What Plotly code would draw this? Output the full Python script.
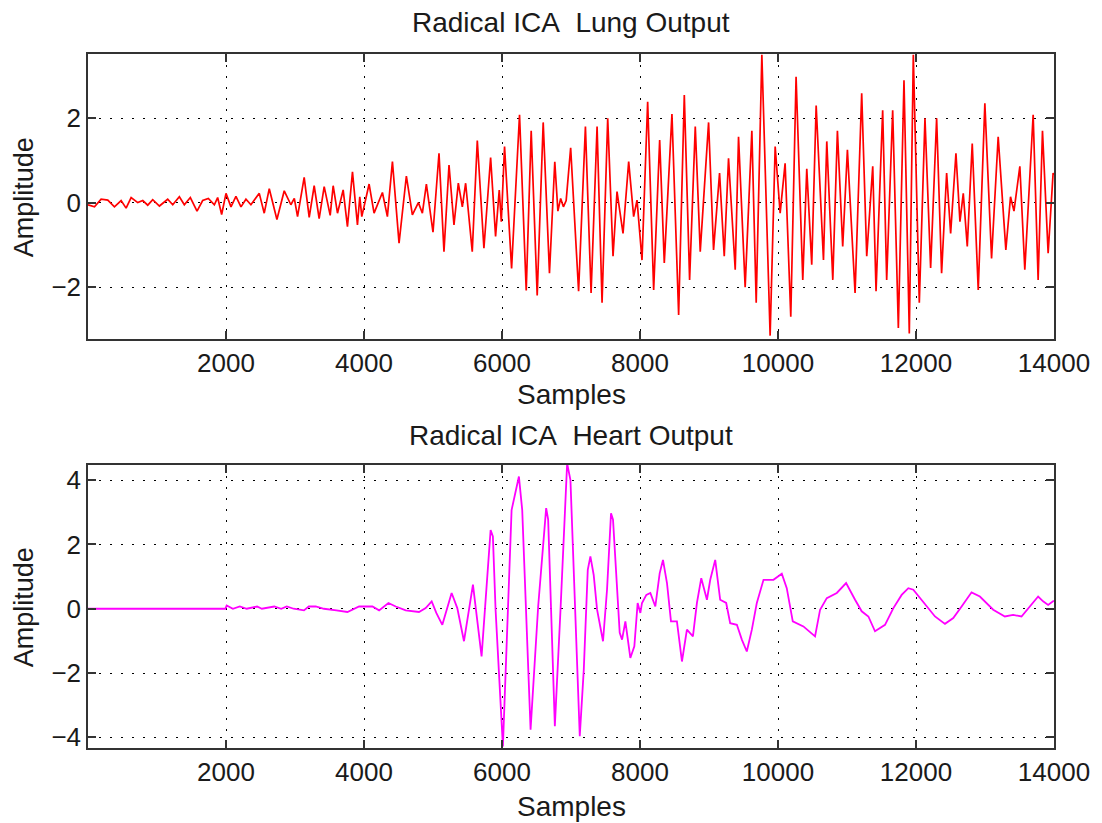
import plotly.graph_objects as go

# Lung output: sample index and amplitude of each turning point of the trace
lung_samples = [
    0, 94, 190, 287, 383, 480, 552, 625, 721, 794, 866, 938, 1035, 1155, 1228,
    1324, 1396, 1483, 1580, 1662, 1744, 1831, 1879, 1937, 2000, 2072, 2144, 2217,
    2289, 2361, 2482, 2554, 2627, 2738, 2844, 2940, 2990, 3037, 3133, 3206, 3278,
    3350, 3423, 3510, 3553, 3616, 3698, 3760, 3833, 3905, 3939, 3968, 4074, 4146,
    4267, 4339, 4412, 4508, 4614, 4701, 4788, 4846, 4904, 5000, 5087, 5159, 5232,
    5304, 5367, 5425, 5473, 5569, 5642, 5738, 5835, 5907, 5960, 5990, 6037, 6139,
    6254, 6351, 6423, 6510, 6597, 6688, 6765, 6810, 6850, 6890, 6930, 6995, 7110,
    7209, 7291, 7378, 7450, 7532, 7609, 7667, 7754, 7836, 7908, 7957, 8029, 8111,
    8198, 8285, 8352, 8463, 8560, 8642, 8719, 8801, 8873, 8994, 9066, 9153, 9221,
    9283, 9380, 9428, 9524, 9621, 9684, 9766, 9886, 9959, 10031, 10103, 10185,
    10262, 10359, 10417, 10489, 10553, 10659, 10707, 10794, 10861, 10938, 11006,
    11117, 11213, 11286, 11373, 11421, 11517, 11575, 11662, 11744, 11826, 11903,
    11961, 12048, 12130, 12212, 12299, 12371, 12444, 12502, 12579, 12637, 12685,
    12743, 12815, 12902, 12998, 13095, 13191, 13302, 13370, 13420, 13505, 13577,
    13698, 13770, 13833, 13915, 13987, 14000,
]
lung_amp = [
    -0.05, -0.10, 0.08, 0.06, -0.10, 0.05, -0.13, 0.12, 0.00, 0.05, -0.06, 0.07,
    -0.08, 0.08, -0.05, 0.14, -0.05, 0.12, -0.20, 0.05, 0.10, -0.05, 0.12, -0.28,
    0.22, -0.10, 0.15, -0.10, 0.08, -0.05, 0.22, -0.25, 0.33, -0.40, 0.28, -0.05,
    0.10, -0.33, 0.60, -0.35, 0.40, -0.38, 0.38, -0.30, 0.40, -0.25, 0.30, -0.57,
    0.73, -0.53, 0.14, -0.33, 0.44, -0.25, 0.24, -0.33, 0.97, -0.96, 0.63, -0.29,
    0.00, -0.25, 0.44, -0.70, 1.17, -1.16, 0.89, -0.53, 0.46, -0.10, 0.46, -1.16,
    1.47, -1.08, 1.07, -0.80, 0.30, -0.45, 1.33, -1.56, 2.08, -2.08, 1.70, -2.20,
    1.90, -1.67, 0.97, -0.20, 0.10, -0.10, 0.05, 1.30, -2.10, 1.80, -2.14, 1.80,
    -2.37, 2.00, -1.27, 0.26, -0.73, 0.97, -0.33, 0.06, -1.36, 2.39, -2.07, 1.48,
    -1.43, 2.10, -2.66, 2.55, -1.83, 1.80, -1.16, 1.90, -1.12, 0.70, -1.27, 1.05,
    -1.59, 1.56, -2.00, 1.70, -2.37, 3.50, -3.15, 1.33, -0.25, 0.93, -2.70, 2.98,
    -1.83, 0.80, -1.47, 2.30, -1.36, 1.45, -1.83, 1.70, -1.04, 1.25, -2.14, 2.59,
    -1.27, 0.86, -2.10, 2.19, -1.83, 2.19, -2.97, 2.90, -3.10, 3.50, -2.37, 2.00,
    -1.55, 2.00, -1.67, 0.70, -0.73, 1.17, -0.45, 0.22, -1.04, 1.40, -2.07, 2.35,
    -1.32, 1.56, -1.12, 0.14, -0.20, 0.86, -1.59, 2.08, -1.83, 1.70, -1.20, 0.70,
    0.65,
]

# Heart output: sample index and amplitude along the trace
heart_samples = [
    0, 1990, 2010, 2100, 2200, 2300, 2450, 2520, 2700, 2800, 2880, 2980, 3130,
    3200, 3300, 3420, 3600, 3760, 3929, 4122, 4219, 4354, 4460, 4605, 4797, 4894,
    4981, 5048, 5135, 5270, 5352, 5449, 5579, 5617, 5704, 5835, 5868, 5907, 6013,
    6139, 6245, 6293, 6414, 6524, 6640, 6669, 6766, 6848, 6944, 6992, 7127, 7185,
    7243, 7281, 7329, 7378, 7464, 7522, 7580, 7609, 7657, 7706, 7740, 7788, 7860,
    7918, 7966, 8005, 8029, 8092, 8150, 8222, 8285, 8333, 8391, 8449, 8535, 8608,
    8680, 8767, 8825, 8888, 8970, 9018, 9090, 9162, 9249, 9307, 9404, 9476, 9548,
    9621, 9693, 9790, 9934, 10055, 10127, 10214, 10368, 10537, 10610, 10707,
    10852, 10987, 11117, 11213, 11310, 11406, 11551, 11672, 11792, 11889, 11961,
    12154, 12275, 12420, 12540, 12661, 12805, 12926, 13119, 13288, 13408, 13529,
    13650, 13770, 13842, 13915, 13987, 14000,
]
heart_amp = [
    0.00, 0.00, 0.10, 0.00, 0.07, 0.00, 0.07, 0.00, 0.07, 0.00, 0.07, 0.00, -0.05,
    0.07, 0.07, 0.00, -0.05, -0.10, 0.07, 0.07, -0.05, 0.18, 0.07, -0.05, -0.10,
    0.02, 0.23, -0.13, -0.50, 0.49, 0.02, -1.01, 0.75, 0.12, -1.48, 2.45, 2.25,
    -0.03, -4.28, 3.07, 4.11, 3.07, -3.76, 0.07, 3.13, 2.77, -3.65, -0.03, 4.52,
    4.00, -3.96, -1.90, 1.21, 1.63, 1.05, -0.03, -1.01, 0.59, 2.97, 2.77, 1.11,
    -0.75, -0.96, -0.39, -1.53, -1.17, 0.18, -0.13, 0.18, 0.43, 0.49, 0.07, 1.10,
    1.52, 0.80, -0.39, -0.39, -1.64, -0.65, -0.86, 0.18, 0.95, 0.28, 0.90, 1.52,
    0.28, 0.18, -0.45, -0.50, -0.96, -1.33, -0.65, 0.18, 0.90, 0.90, 1.09, 0.64,
    -0.39, -0.55, -0.86, -0.03, 0.33, 0.49, 0.80, 0.28, -0.08, -0.24, -0.70,
    -0.50, 0.02, 0.43, 0.64, 0.59, 0.07, -0.24, -0.47, -0.29, 0.07, 0.51, 0.38,
    -0.03, -0.24, -0.19, -0.24, 0.07, 0.38, 0.23, 0.12, 0.23, 0.25,
]

x_ticks = [2000, 4000, 6000, 8000, 10000, 12000, 14000]
x_tick_text = ["2000", "4000", "6000", "8000", "10000", "12000", "14000"]
lung_yticks = [-2, 0, 2]
heart_yticks = [-4, -2, 0, 2, 4]

FONT = "Liberation Sans, Arial, Helvetica, sans-serif"
TXT = "#1a1a1a"

fig = go.Figure()
fig.add_trace(go.Scatter(x=lung_samples, y=lung_amp, mode="lines",
                         line=dict(color="#ff0000", width=1.7),
                         xaxis="x", yaxis="y", showlegend=False))
fig.add_trace(go.Scatter(x=heart_samples, y=heart_amp, mode="lines",
                         line=dict(color="#ff00ff", width=1.8),
                         xaxis="x2", yaxis="y2", showlegend=False))

axis_common = dict(
    showline=True, linecolor="#333333", linewidth=1.5, mirror="ticks",
    ticks="inside", ticklen=8, tickwidth=1.5, tickcolor="#333333",
    showgrid=True, gridcolor="#000000", gridwidth=1, griddash="2px,9px",
    zeroline=False, tickfont=dict(family=FONT, size=26, color=TXT),
)

fig.update_layout(
    width=1102, height=823,
    margin=dict(l=88, r=46, t=54, b=75),
    paper_bgcolor="white", plot_bgcolor="white",
    xaxis=dict(domain=[0, 1], anchor="y", range=[0, 14000],
               tickvals=x_ticks, ticktext=x_tick_text, **axis_common),
    yaxis=dict(domain=[0.5893, 1], anchor="x", range=[-3.23, 3.52],
               tickvals=lung_yticks, **axis_common),
    xaxis2=dict(domain=[0, 1], anchor="y2", range=[0, 14000],
                tickvals=x_ticks, ticktext=x_tick_text, **axis_common),
    yaxis2=dict(domain=[0, 0.4078], anchor="x2", range=[-4.33, 4.47],
                tickvals=heart_yticks, **axis_common),
)

labels = [
    ("Radical ICA\u00a0 Lung Output", 0.5, 1.045, 0, 28),
    ("Samples", 0.5, 0.509, 0, 28),
    ("Radical ICA\u00a0 Heart Output", 0.5, 0.451, 0, 28),
    ("Samples", 0.5, -0.0836, 0, 28),
    ("Amplitude", -0.066, 0.794, -90, 27),
    ("Amplitude", -0.066, 0.203, -90, 27),
]
for text, x, y, ang, size in labels:
    fig.add_annotation(text=text, x=x, y=y, xref="paper", yref="paper",
                       showarrow=False, textangle=ang,
                       xanchor="center", yanchor="middle",
                       font=dict(family=FONT, size=size, color=TXT))

fig.write_html("out.html")
